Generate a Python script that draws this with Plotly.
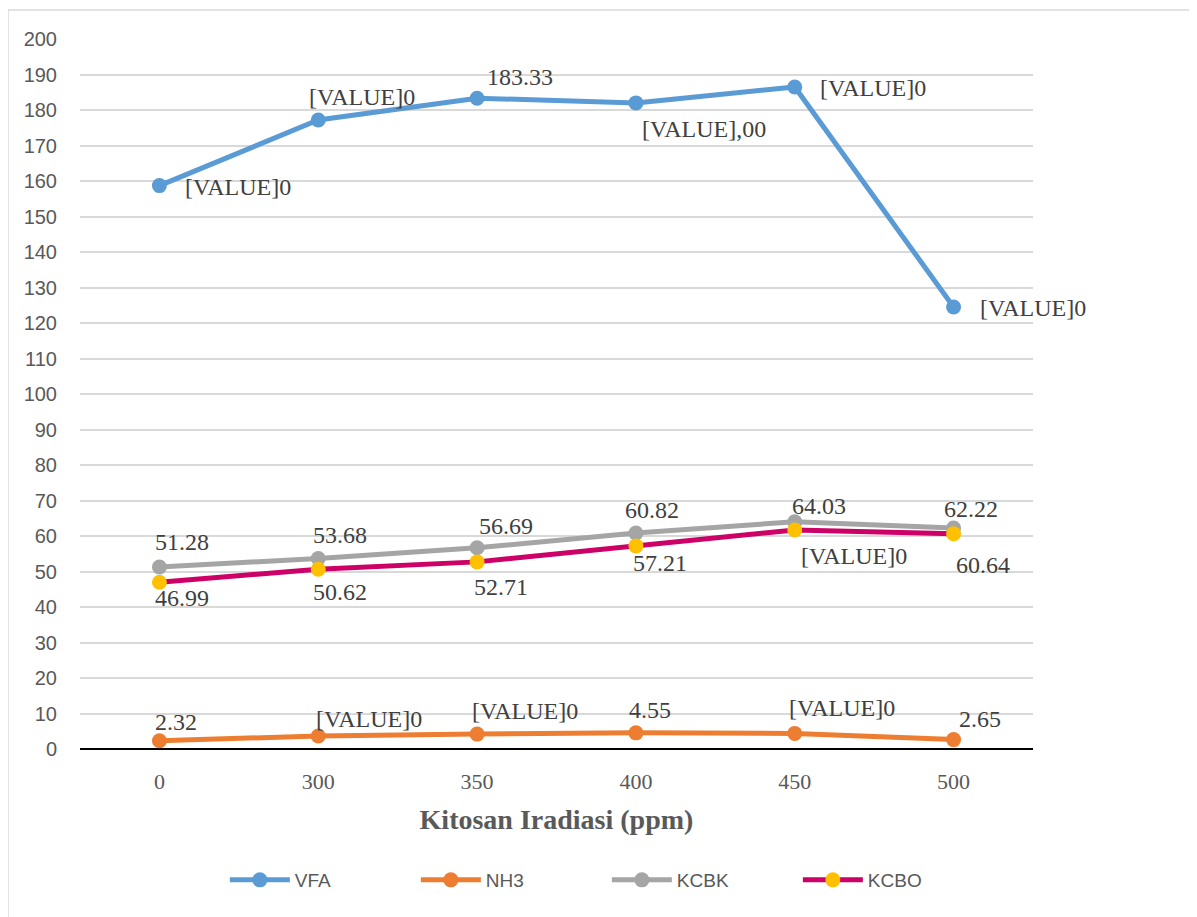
import plotly.graph_objects as go

categories = ["0", "300", "350", "400", "450", "500"]

vfa = [158.7, 177.2, 183.33, 182.0, 186.5, 124.5]
nh3 = [2.32, 3.66, 4.2, 4.55, 4.4, 2.65]
kcbk = [51.28, 53.68, 56.69, 60.82, 64.03, 62.22]
kcbo = [46.99, 50.62, 52.71, 57.21, 61.7, 60.64]

vfa_labels = ["[VALUE]0", "[VALUE]0", "183.33", "[VALUE],00", "[VALUE]0", "[VALUE]0"]
nh3_labels = ["2.32", "[VALUE]0", "[VALUE]0", "4.55", "[VALUE]0", "2.65"]
kcbk_labels = ["51.28", "53.68", "56.69", "60.82", "64.03", "62.22"]
kcbo_labels = ["46.99", "50.62", "52.71", "57.21", "[VALUE]0", "60.64"]

y_ticks = list(range(0, 201, 10))

# label offsets (pixels): (dx from point to label left edge, dy downward of label centre)
vfa_off = [(24, 1), (-11, -23), (8, -21), (4, 26), (23, 1), (24, 1)]
nh3_off = [(-6, -19), (-4, -17), (-7, -23), (-9, -23), (-8, -25), (3, -21)]
kcbk_off = [(-6, -25), (-7, -23), (0, -22), (-13, -23), (-5, -16), (-12, -19)]
kcbo_off = [(-6, 16), (-7, 23), (-5, 25), (-5, 17), (4, 26), (0, 31)]

series = [
    ("VFA", vfa, vfa_labels, vfa_off, "#5B9BD5", "#5B9BD5"),
    ("NH3", nh3, nh3_labels, nh3_off, "#ED7D31", "#ED7D31"),
    ("KCBK", kcbk, kcbk_labels, kcbk_off, "#A5A5A5", "#A5A5A5"),
    ("KCBO", kcbo, kcbo_labels, kcbo_off, "#CC0066", "#FFC000"),
]

xpos = list(range(len(categories)))

fig = go.Figure()
annotations = []
for name, vals, labels, offs, lc, mc in series:
    fig.add_trace(go.Scatter(
        x=xpos, y=vals, name=name, mode="lines+markers",
        line=dict(color=lc, width=5),
        marker=dict(color=mc, size=15, line=dict(width=0)),
        hoverinfo="skip",
    ))
    for xi, v, t, (dx, dy) in zip(xpos, vals, labels, offs):
        annotations.append(dict(
            x=xi, y=v, xref="x", yref="y", text=t, showarrow=False,
            xanchor="left", yanchor="middle", xshift=dx, yshift=-dy,
            font=dict(family="Liberation Serif", size=24, color="#404040"),
        ))

fig.update_layout(
    width=1197, height=917,
    margin=dict(l=72, r=172, t=31, b=176),
    paper_bgcolor="white", plot_bgcolor="white",
    showlegend=True,
    legend=dict(
        orientation="h", x=0.152, y=-0.1845, xanchor="left", yanchor="middle",
        font=dict(family="Liberation Sans", size=19, color="#595959"),
        entrywidth=116, entrywidthmode="pixels", itemwidth=60,
    ),
    annotations=annotations,
    shapes=[
        dict(type="line", xref="paper", yref="paper", x0=-0.0756, x1=1.2, y0=1.0408, y1=1.0408,
             line=dict(color="#D9D9D9", width=1.5)),
        dict(type="line", xref="paper", yref="paper", x0=-0.0756, x1=-0.0756, y0=1.0408, y1=-0.3,
             line=dict(color="#D9D9D9", width=1.5)),
    ],
)

fig.update_xaxes(
    range=[-0.5, len(categories) - 0.5], tickvals=xpos, ticktext=categories,
    showgrid=False, showline=False, zeroline=False, ticks="", ticklabelstandoff=17,
    tickfont=dict(family="Liberation Serif", size=22, color="#595959"),
    title=dict(text="<b>Kitosan Iradiasi (ppm)</b>", standoff=16,
               font=dict(family="Liberation Serif", size=28, color="#595959")),
)
fig.update_yaxes(
    range=[0, 200], tickvals=y_ticks, showgrid=True, gridcolor="#D9D9D9", gridwidth=1.5,
    zeroline=True, zerolinecolor="#000000", zerolinewidth=2,
    showline=False, ticks="", ticklabelstandoff=22,
    tickfont=dict(family="Liberation Sans", size=20, color="#595959"),
)

fig.write_html("out.html")
